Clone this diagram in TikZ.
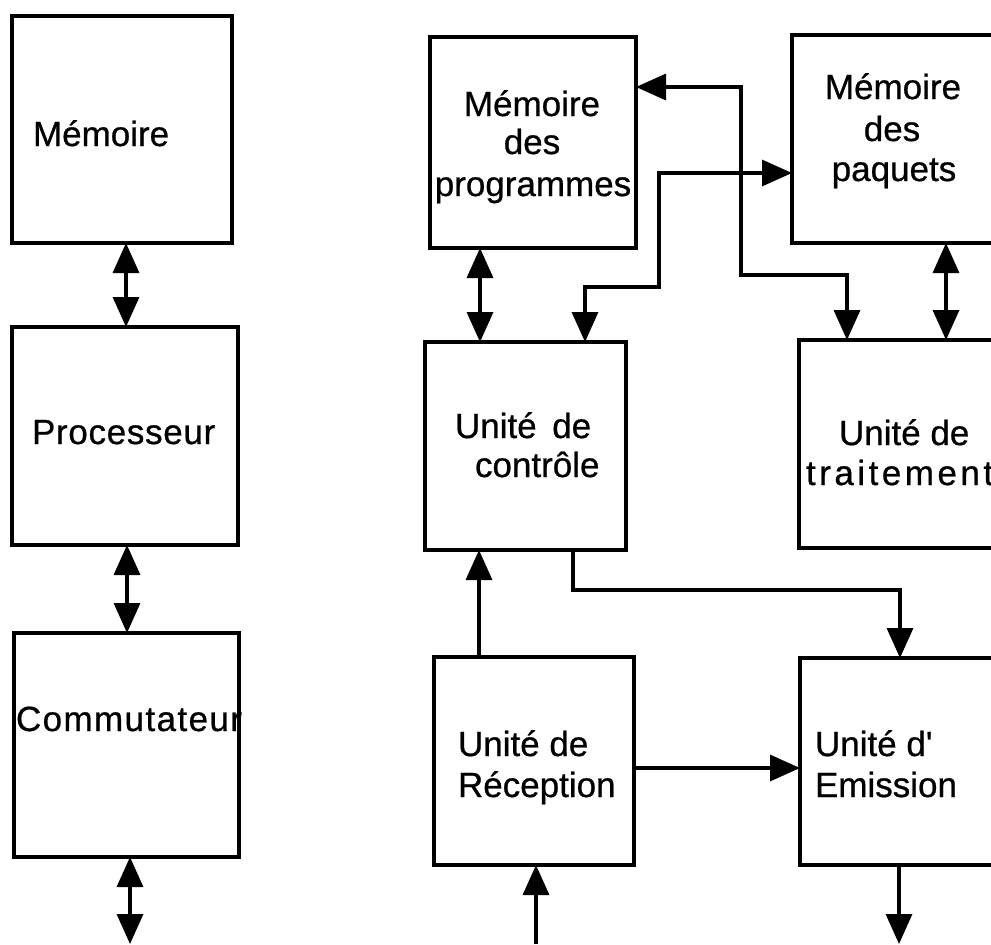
\documentclass[tikz,border=0pt]{standalone}
\usepackage{fontspec}
\setmainfont{Liberation Sans}[FakeBold=0.7]
\usetikzlibrary{arrows.meta}
\begin{document}
\begin{tikzpicture}[x=0.5pt,y=-0.5pt,
  blk/.style={draw, line width=2pt, inner sep=0pt, outer sep=0pt, line join=miter},
  lbl/.style={inner sep=0pt, outer sep=0pt, font=\fontsize{17.5pt}{21pt}\selectfont},
  link/.style={line width=1.7pt, line join=miter},
  >={Triangle[length=15pt,width=13pt]}]
\useasboundingbox (0,0) rectangle (991,944);
\clip (0,0) rectangle (991,944);

% ---- conventional architecture (left column)
\node[blk, minimum width=110pt, minimum height=113.5pt] (mem)  at (122,129.5) {};
\node[blk, minimum width=113pt, minimum height=109pt]   (proc) at (125,436) {};
\node[blk, minimum width=112.5pt, minimum height=112pt] (comm) at (126.5,745) {};

\node[lbl, anchor=base west] (tmem)  at (33,146)  {Mémoire};
\node[lbl, anchor=base west] (tproc) at (32,444)  {\addfontfeature{LetterSpace=2}Processeur};
\node[lbl, anchor=base west] (tcomm) at (16,731)  {\addfontfeature{LetterSpace=4}Commutateur};

\coordinate (commout) at (130,944);
\draw[link,<->] (mem.south -| 126,0) -- (proc.north -| 126,0);
\draw[link,<->] (proc.south -| 127,0) -- (comm.north -| 127,0);
\draw[link,<->] (comm.south -| 130,0) -- (commout);

% ---- packet switch architecture (right part)
\node[blk, minimum width=103pt, minimum height=105.5pt] (memprog) at (533,142.5) {};
\node[blk, minimum width=102.5pt, minimum height=104pt] (mempaq)  at (894.5,139) {};
\node[blk, minimum width=100.5pt, minimum height=104pt] (ctrl)    at (525.5,446) {};
\node[blk, minimum width=101pt, minimum height=104pt]   (trait)   at (900,444) {};
\node[blk, minimum width=100pt, minimum height=104pt]   (recep)   at (534,761) {};
\node[blk, minimum width=100pt, minimum height=103.5pt] (emis)    at (900,761.5) {};

\node[lbl, anchor=base] (tmp1) at (532,116) {Mémoire};
\node[lbl, anchor=base] (tmp2) at (532,154) {des};
\node[lbl, anchor=base] (tmp3) at (533,196) {programmes};

\node[lbl, anchor=base] (tpq1) at (893,99)  {Mémoire};
\node[lbl, anchor=base] (tpq2) at (892,141) {des};
\node[lbl, anchor=base] (tpq3) at (894,181) {paquets};

\node[lbl, anchor=base west] (tct1) at (455,438) {Unité \,de};
\node[lbl, anchor=base west] (tct2) at (475,477) {contrôle};

\node[lbl, anchor=base west] (ttr1) at (839,445) {Unité de};
\node[lbl, anchor=base west] (ttr2) at (806,485) {\addfontfeature{LetterSpace=10}traitement};

\node[lbl, anchor=base west] (tre1) at (458,756) {Unité de};
\node[lbl, anchor=base west] (tre2) at (458,797) {Réception};

\node[lbl, anchor=base west] (tem1) at (815,756) {Unité d\textquotesingle};
\node[lbl, anchor=base west] (tem2) at (815,797) {Emission};

\coordinate (recin)  at (536,944);
\coordinate (emiout) at (899,944);

\draw[link,<->] (memprog.south -| 480,0) -- (ctrl.north -| 480,0);
\draw[link,<->] (mempaq.south -| 946,0) -- (trait.north -| 946,0);

\draw[link,<->] (memprog.east |- 0,87) -- (741,87) -- (741,275)
  -- (847,275) -- (trait.north -| 847,0);
\draw[link,<->] (mempaq.west |- 0,173) -- (659,173) -- (659,287)
  -- (585,287) -- (ctrl.north -| 585,0);

\draw[link,->] (recep.north -| 479,0) -- (ctrl.south -| 479,0);
\draw[link,->] (ctrl.south -| 573,0) -- (573,590) -- (900,590)
  -- (emis.north -| 900,0);
\draw[link,->] (recep.east |- 0,768) -- (emis.west |- 0,768);

\draw[link,->] (recin) -- (recep.south -| 536,0);
\draw[link,->] (emis.south -| 899,0) -- (emiout);
\end{tikzpicture}
\end{document}
